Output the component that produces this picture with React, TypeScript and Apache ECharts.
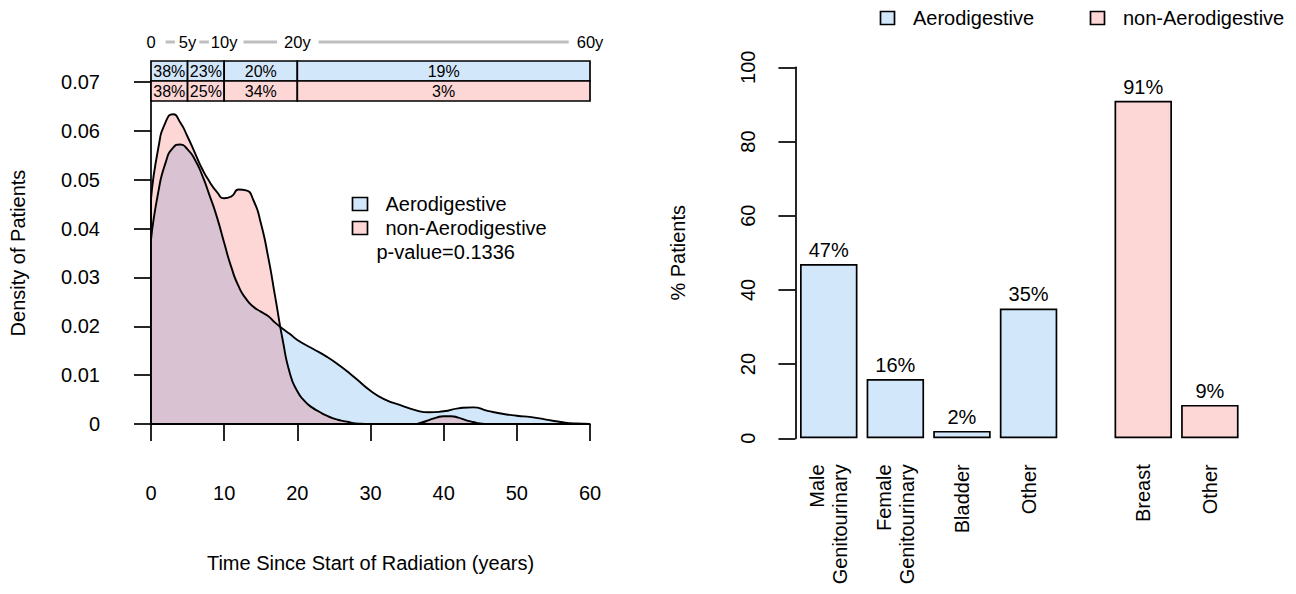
import React, { useEffect, useRef } from "react";
import * as echarts from "echarts";

const FONT = '"Liberation Sans", Arial, Helvetica, sans-serif';
const BLUE = "#D3E7FB";
const PINK = "#FDD6D6";
const PINK_OVER = "rgba(244,27,27,0.18)";

// Density curves (time in years, density)
const aeroTime = [0, 1, 2, 3, 4, 5, 6, 7, 8, 9, 10, 11, 12, 13, 14, 15, 16, 17, 18, 19, 20, 22, 24, 26, 28, 30, 32, 34, 36, 38, 40, 42, 44, 46, 48, 50, 52, 54, 56, 58, 60];
const aeroDensity = [0.0377, 0.0475, 0.0535, 0.0565, 0.0572, 0.0562, 0.0541, 0.0509, 0.0468, 0.0424, 0.0371, 0.032, 0.0281, 0.0256, 0.024, 0.023, 0.0221, 0.0207, 0.0195, 0.0184, 0.0172, 0.0155, 0.0138, 0.0117, 0.0093, 0.0068, 0.005, 0.0039, 0.0029, 0.0024, 0.0026, 0.0032, 0.0034, 0.0027, 0.0021, 0.0017, 0.0014, 0.0009, 0.0004, 0.0001, 0];
const nonAeroTime = [0, 1, 2, 3, 4, 5, 6, 7, 8, 9, 10, 11, 12, 13, 14, 15, 16, 17, 18, 19, 20, 21, 22, 23, 24, 25, 26, 27, 28, 30, 34, 36, 37, 38, 39, 40, 41, 42, 43, 44, 45, 46, 50, 60];
const nonAeroDensity = [0.046, 0.0565, 0.0618, 0.0634, 0.0617, 0.0588, 0.0555, 0.0522, 0.0496, 0.0475, 0.0462, 0.0466, 0.048, 0.0478, 0.0458, 0.0412, 0.0343, 0.0258, 0.0172, 0.0103, 0.0067, 0.0047, 0.0034, 0.0025, 0.0017, 0.0011, 0.0007, 0.0004, 0.0001, 0, 0, 0, 0.0003, 0.0008, 0.0013, 0.0016, 0.0016, 0.0013, 0.0008, 0.0004, 0.0001, 0, 0, 0];

// Interval summary boxes
const intervalBounds = [0, 5, 10, 20, 60];
const intervalLabels = ["0", "5y", "10y", "20y", "60y"];
const aeroIntervalPct = ["38%", "23%", "20%", "19%"];
const nonAeroIntervalPct = ["38%", "25%", "34%", "3%"];

// Bar chart
const aeroCategories = ["Male\nGenitourinary", "Female\nGenitourinary", "Bladder", "Other"];
const aeroPercent = [47, 16, 2, 35];
const nonAeroCategories = ["Breast", "Other"];
const nonAeroPercent = [91, 9];

const pValueText = "p-value=0.1336";

const FS = 20;
const AXIS_LINE = { show: true, lineStyle: { color: "#000", width: 1.7 } };
const AXIS_TICK = { show: true, length: 17, lineStyle: { color: "#000", width: 1.7 } };

export default function App() {
  const ref = useRef<HTMLDivElement>(null);
  useEffect(() => {
    document.body.style.margin = "0";
    const chart = echarts.init(ref.current as HTMLDivElement, null, { renderer: "svg" });
    const zip = (a: number[], b: number[]) => a.map((v, i) => [v, b[i]]);
    const textStyleBase = { color: "#000", fontFamily: FONT, fontSize: FS };
    const option: any = {
      animation: false,
      backgroundColor: "#fff",
      textStyle: { fontFamily: FONT },
      grid: [
        { left: 151, top: 82, width: 439, height: 342 },
        { left: 795.45, top: 67.3, width: 266.4, height: 371 },
        { left: 1109.95, top: 67.3, width: 133.2, height: 371 },
      ],
      xAxis: [
        {
          gridIndex: 0, type: "value", min: 0, max: 60, interval: 10, offset: 15,
          axisLine: AXIS_LINE, axisTick: AXIS_TICK, splitLine: { show: false },
          axisLabel: { ...textStyleBase, margin: 44 },
          name: "Time Since Start of Radiation (years)", nameLocation: "middle", nameGap: 114,
          nameTextStyle: { ...textStyleBase },
        },
        {
          gridIndex: 1, type: "category", data: aeroCategories,
          axisLine: { show: false }, axisTick: { show: false },
          axisLabel: { ...textStyleBase, rotate: 90, margin: 26, lineHeight: 23, interval: 0 },
        },
        {
          gridIndex: 2, type: "category", data: nonAeroCategories,
          axisLine: { show: false }, axisTick: { show: false },
          axisLabel: { ...textStyleBase, rotate: 90, margin: 26, lineHeight: 23, interval: 0 },
        },
      ],
      yAxis: [
        {
          gridIndex: 0, type: "value", min: 0, max: 0.07, interval: 0.01, offset: 17,
          axisLine: AXIS_LINE, axisTick: AXIS_TICK, splitLine: { show: false },
          axisLabel: { ...textStyleBase, margin: 34 },
          name: "Density of Patients", nameLocation: "middle", nameGap: 106,
          nameTextStyle: { ...textStyleBase },
        },
        {
          gridIndex: 1, type: "value", min: 0, max: 100, interval: 20,
          axisLine: AXIS_LINE, axisTick: AXIS_TICK, splitLine: { show: false },
          axisLabel: { ...textStyleBase, rotate: 90, margin: 37 },
          name: "% Patients", nameLocation: "middle", nameGap: 107,
          nameTextStyle: { ...textStyleBase },
        },
        { gridIndex: 2, type: "value", min: 0, max: 100, show: false },
      ],
      series: [
        {
          type: "line", xAxisIndex: 0, yAxisIndex: 0, data: zip(aeroTime, aeroDensity),
          smooth: 0.6, symbol: "none",
          lineStyle: { color: "#000", width: 1.9 }, areaStyle: { color: BLUE, opacity: 1 },
        },
        {
          type: "line", xAxisIndex: 0, yAxisIndex: 0, data: zip(nonAeroTime, nonAeroDensity),
          smooth: 0.6, symbol: "none",
          lineStyle: { color: "#000", width: 1.9 }, areaStyle: { color: PINK_OVER, opacity: 1 },
          markLine: {
            silent: true, symbol: ["none", "none"], label: { show: false },
            lineStyle: { color: "#000", type: "solid", width: 1.9 },
            data: [
              [{ coord: [intervalBounds[0], 0] }, { coord: [intervalBounds[intervalBounds.length - 1], 0] }],
              [{ coord: [0, 0] }, { coord: [0, nonAeroDensity[0]] }],
            ],
          },
        },
        {
          type: "bar", xAxisIndex: 1, yAxisIndex: 1, data: aeroPercent, barWidth: 57.5,
          itemStyle: { color: BLUE, borderColor: "#000", borderWidth: 1.7 },
          label: { show: true, position: "top", distance: 4, formatter: "{c}%", ...textStyleBase },
        },
        {
          type: "bar", xAxisIndex: 2, yAxisIndex: 2, data: nonAeroPercent, barWidth: 57.5,
          itemStyle: { color: PINK, borderColor: "#000", borderWidth: 1.7 },
          label: { show: true, position: "top", distance: 4, formatter: "{c}%", ...textStyleBase },
        },
      ],
    };
    chart.setOption(option);

    const px = (t: number) => (chart.convertToPixel({ gridIndex: 0 } as any, [t, 0]) as number[])[0];
    const g: any[] = [];
    const rowTop = 61;
    const rowH = 20;
    const rows = [
      { pct: aeroIntervalPct, fill: BLUE, y: rowTop },
      { pct: nonAeroIntervalPct, fill: PINK, y: rowTop + rowH },
    ];
    rows.forEach((r) => {
      r.pct.forEach((p, i) => {
        const x0 = px(intervalBounds[i]);
        const x1 = px(intervalBounds[i + 1]);
        g.push({
          type: "rect", shape: { x: x0, y: r.y, width: x1 - x0, height: rowH },
          style: { fill: r.fill, stroke: "#000", lineWidth: 1.7 }, z: 10,
        });
        g.push({
          type: "text", x: (x0 + x1) / 2, y: r.y + rowH / 2 + 0.5, z: 11,
          style: { text: p, fill: "#000", font: `16px ${FONT}`, align: "center", verticalAlign: "middle" },
        });
      });
    });
    // timeline labels + grey connectors
    const ctx = document.createElement("canvas").getContext("2d") as CanvasRenderingContext2D;
    const tlFont = `16.5px ${FONT}`;
    ctx.font = tlFont;
    const tlY = 42;
    const gaps = [[10, 4], [3, 2], [6, 7], [8, 8]];
    intervalLabels.forEach((lab, i) => {
      const cx = px(intervalBounds[i]);
      g.push({
        type: "text", x: cx, y: tlY, z: 11,
        style: { text: lab, fill: "#000", font: tlFont, align: "center", verticalAlign: "middle" },
      });
      if (i < intervalLabels.length - 1) {
        const w0 = ctx.measureText(lab).width;
        const w1 = ctx.measureText(intervalLabels[i + 1]).width;
        const cx1 = px(intervalBounds[i + 1]);
        g.push({
          type: "line", z: 10,
          shape: { x1: cx + w0 / 2 + gaps[i][0], y1: tlY, x2: cx1 - w1 / 2 - gaps[i][1], y2: tlY },
          style: { stroke: "#BEBEBE", lineWidth: 3 },
        });
      }
    });
    // inner legend (left)
    const legFont = `${FS}px ${FONT}`;
    g.push({ type: "rect", shape: { x: 352.5, y: 197.5, width: 15, height: 13 }, style: { fill: BLUE, stroke: "#000", lineWidth: 1.7 }, z: 10 });
    g.push({ type: "text", x: 385.5, y: 204, z: 11, style: { text: "Aerodigestive", fill: "#000", font: legFont, verticalAlign: "middle" } });
    g.push({ type: "rect", shape: { x: 352.5, y: 221.5, width: 15, height: 13 }, style: { fill: PINK, stroke: "#000", lineWidth: 1.7 }, z: 10 });
    g.push({ type: "text", x: 385.5, y: 228, z: 11, style: { text: "non-Aerodigestive", fill: "#000", font: legFont, verticalAlign: "middle" } });
    g.push({ type: "text", x: 376.5, y: 252, z: 11, style: { text: pValueText, fill: "#000", font: legFont, verticalAlign: "middle" } });
    // top legend (right)
    g.push({ type: "rect", shape: { x: 880.5, y: 11.5, width: 14, height: 13 }, style: { fill: BLUE, stroke: "#000", lineWidth: 1.7 }, z: 10 });
    g.push({ type: "text", x: 913, y: 18, z: 11, style: { text: "Aerodigestive", fill: "#000", font: legFont, verticalAlign: "middle" } });
    g.push({ type: "rect", shape: { x: 1090.5, y: 11.5, width: 14, height: 13 }, style: { fill: PINK, stroke: "#000", lineWidth: 1.7 }, z: 10 });
    g.push({ type: "text", x: 1123, y: 18, z: 11, style: { text: "non-Aerodigestive", fill: "#000", font: legFont, verticalAlign: "middle" } });

    chart.setOption({ graphic: g });
    return () => chart.dispose();
  }, []);
  return <div ref={ref} style={{ position: "fixed", left: 0, top: 0, width: 1296, height: 594 }} />;
}
